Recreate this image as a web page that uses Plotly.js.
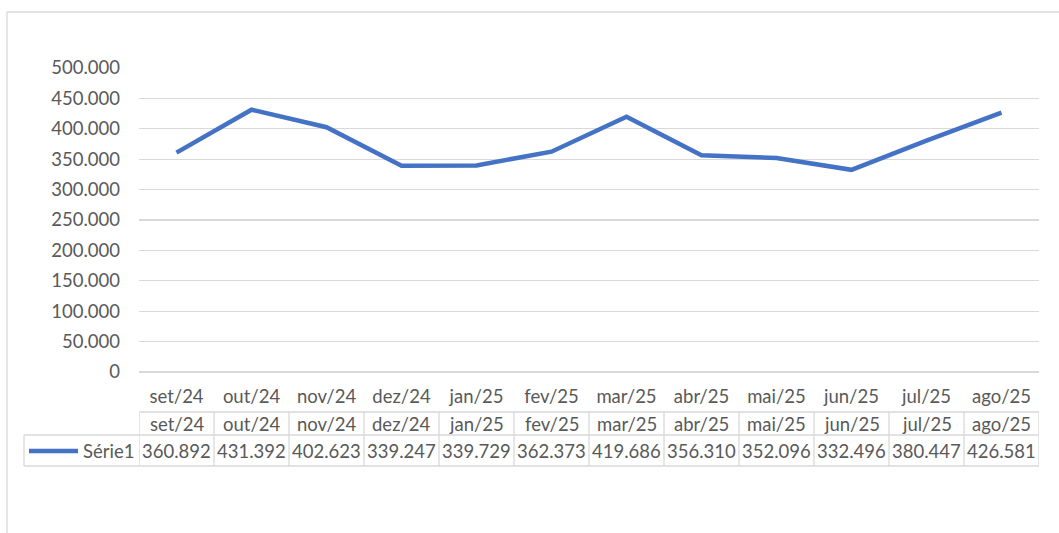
<!DOCTYPE html>
<html>
<head>
<meta charset="utf-8">
<script src="https://cdn.plot.ly/plotly-3.0.1.min.js"></script>
<style>html,body{margin:0;padding:0;background:#fff;}#chart{width:1059px;height:533px;}</style>
</head>
<body>
<div id="chart"></div>
<script>
const categories = ['set/24','out/24','nov/24','dez/24','jan/25','fev/25','mar/25','abr/25','mai/25','jun/25','jul/25','ago/25'];
const serie1 = [360892, 431392, 402623, 339247, 339729, 362373, 419686, 356310, 352096, 332496, 380447, 426581];
const seriesName = 'Série1';
const yTicks = [0, 50000, 100000, 150000, 200000, 250000, 300000, 350000, 400000, 450000, 500000];

const W = 1059, H = 533;
const L = 139, R = 1039, T = 68, B = 372;
const px = X => (X - L) / (R - L);
const py = Y => (B - Y) / (B - T);
const FONT = 'Lato, "Open Sans", sans-serif';
const FS = 18.5;
const TXT = '#595959';
const GRID = '#d9d9d9';
const BLUE = '#4472C4';

function fmt(v) {
  return String(Math.round(v)).replace(/\B(?=(\d{3})+(?!\d))/g, '.');
}

const shapes = [];
const annotations = [];
const hline = (x0, x1, y, ref, col, w) => shapes.push({type:'line', xref:ref, yref:'paper', x0:x0, x1:x1, y0:y, y1:y, line:{color:col||GRID, width:w||1.3}, layer:'above'});
const vline = (x, y0, y1, ref) => shapes.push({type:'line', xref:ref, yref:'paper', x0:x, x1:x, y0:y0, y1:y1, line:{color:GRID, width:1.3}, layer:'above'});

// outer frame
hline(px(7), px(W), py(12), 'paper', '#d9d9d9', 1.3);
vline(px(7), py(12), py(H), 'paper');

// table
const yTop = py(412), yMid = py(435), yBot = py(466);
hline(-0.5, categories.length - 0.5, yTop, 'x');
hline(px(24), px(R), yMid, 'paper');
hline(px(24), px(R), yBot, 'paper');
for (let i = 0; i <= categories.length; i++) vline(i - 0.5, yTop, yBot, 'x');
vline(px(24), yMid, yBot, 'paper');

// legend key
hline(px(29), px(78), py(451), 'paper', BLUE, 4.5);
annotations.push({xref:'paper', yref:'paper', x:px(136), y:py(451), xanchor:'right', yanchor:'middle', text:seriesName, showarrow:false, font:{family:FONT, size:FS, color:TXT}});

categories.forEach((c, i) => {
  annotations.push({xref:'x', yref:'paper', x:i, y:py(424), xanchor:'center', yanchor:'middle', text:c, showarrow:false, font:{family:FONT, size:FS, color:TXT}});
  annotations.push({xref:'x', yref:'paper', x:i, y:py(451), xanchor:'center', yanchor:'middle', text:fmt(serie1[i]), showarrow:false, font:{family:FONT, size:FS, color:TXT}});
});

const trace = {
  type:'scatter', mode:'lines', x:categories, y:serie1, name:seriesName,
  line:{color:BLUE, width:4.5}, hoverinfo:'skip'
};

const layout = {
  width:W, height:H,
  margin:{l:L, r:W - R, t:T, b:H - B, pad:0},
  paper_bgcolor:'#fff', plot_bgcolor:'#fff',
  showlegend:false,
  separators:',.',
  font:{family:FONT, size:FS, color:TXT},
  xaxis:{type:'category', range:[-0.5, categories.length - 0.5], showgrid:false, showline:false, zeroline:false,
         ticks:'', ticklabelstandoff:11, tickfont:{family:FONT, size:FS, color:TXT}, fixedrange:true},
  yaxis:{range:[0, 500000], tickvals:yTicks, ticktext:yTicks.map(fmt), showgrid:true, gridcolor:GRID, gridwidth:1.3,
         zeroline:true, zerolinecolor:GRID, zerolinewidth:1.3, showline:false, ticks:'', ticklabelstandoff:18,
         tickfont:{family:FONT, size:FS, color:TXT}, fixedrange:true},
  shapes:shapes, annotations:annotations
};

Plotly.newPlot('chart', [trace], layout, {displayModeBar:false, staticPlot:true});
</script>
</body>
</html>
